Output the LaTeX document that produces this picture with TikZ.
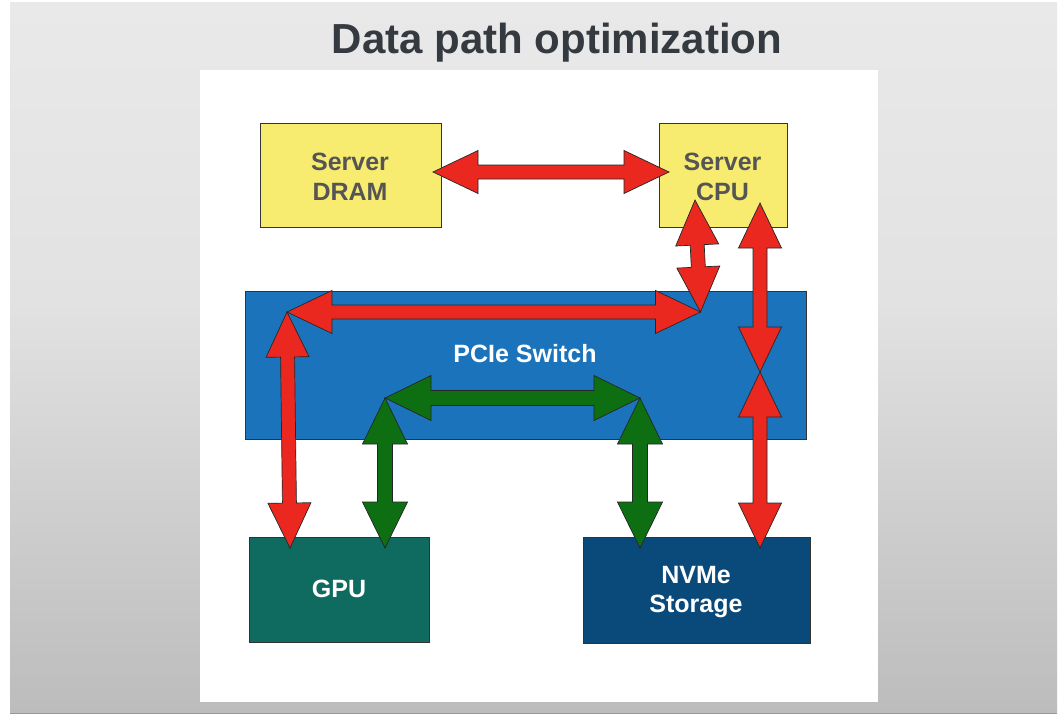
\documentclass[tikz,border=0pt]{standalone}
\usepackage{fontspec}
\setmainfont{Liberation Sans}
\usetikzlibrary{calc}

\definecolor{bgtop}{HTML}{E9E9E9}
\definecolor{bgmid}{HTML}{E2E2E2}
\definecolor{bgbot}{HTML}{BCBCBC}
\definecolor{titlegray}{HTML}{343A40}
\definecolor{labelgray}{HTML}{555555}
\definecolor{dramyellow}{HTML}{F8EC70}
\definecolor{switchblue}{HTML}{1B74BB}
\definecolor{gputeal}{HTML}{0F6A5F}
\definecolor{nvmenavy}{HTML}{0A4A7B}
\definecolor{linkred}{HTML}{EA2820}
\definecolor{linkgreen}{HTML}{0E6E12}

% double-headed block arrow between two named points
% #1 fill colour, #2/#3 tips, #4 head length, #5 head half width, #6 shaft half width
\newcommand\pipearrow[6]{%
  \coordinate (ha) at ($(#2)!#4!(#3)$);
  \coordinate (hb) at ($(#3)!#4!(#2)$);
  \draw[blockarrow,fill=#1] (#2)
    -- ($(ha)!#5!90:(#3)$) -- ($(ha)!#6!90:(#3)$)
    -- ($(hb)!#6!-90:(#2)$) -- ($(hb)!#5!-90:(#2)$)
    -- (#3)
    -- ($(hb)!#5!90:(#2)$) -- ($(hb)!#6!90:(#2)$)
    -- ($(ha)!#6!-90:(#3)$) -- ($(ha)!#5!-90:(#3)$)
    -- cycle;}
\newcommand\redlink[2]{\pipearrow{linkred}{#1}{#2}{45pt}{21.5pt}{7pt}}
\newcommand\greenlink[2]{\pipearrow{linkgreen}{#1}{#2}{46pt}{22.5pt}{7.5pt}}

\begin{document}
\begin{tikzpicture}[x=1pt,y=-1pt,
  box/.style={draw=black!80,line width=0.8pt,inner sep=0pt},
  boxtext/.style={font=\fontsize{25}{30}\selectfont\bfseries,align=center},
  blockarrow/.style={draw=black!85,line width=0.7pt,line join=miter}]
\useasboundingbox (0,0) rectangle (1058,715);

% slide background
\fill[white] (0,0) rectangle (1058,715);
\shade[top color=bgtop,bottom color=bgmid] (10,2) rectangle (1057,300);
\shade[top color=bgmid,bottom color=bgbot] (10,300) rectangle (1057,713.5);
\draw[black!40,line width=0.8pt] (10,713.5) -- (1057,713.5);
\fill[white] (200,70) rectangle (878,702);

\node[font=\fontsize{42}{50}\selectfont\bfseries,text=titlegray,anchor=base]
  (title) at (557,53) {Data path optimization};

% components
\node[box,fill=dramyellow,minimum width=181pt,minimum height=104pt] (dram) at (350.5,175) {};
\node[boxtext,text=labelgray] (dramlabel) at (350,177) {Server\\DRAM};
\node[box,fill=dramyellow,minimum width=128pt,minimum height=104pt] (cpu) at (723,175) {};
\node[boxtext,text=labelgray] (cpulabel) at (722.5,177) {Server\\CPU};
\node[box,fill=switchblue,minimum width=561pt,minimum height=148pt] (switch) at (525.5,365) {};
\node[boxtext,text=white] (switchlabel) at (525,353.5) {PCIe Switch};
\node[box,fill=gputeal,minimum width=180pt,minimum height=105pt] (gpu) at (339,589.5) {};
\node[boxtext,text=white] (gpulabel) at (339,588.5) {GPU};
\node[box,fill=nvmenavy,minimum width=227pt,minimum height=106pt] (nvme) at (696.5,590) {};
\node[boxtext,text=white,font=\fontsize{25}{29}\selectfont\bfseries] (nvmelabel) at (696,592) {NVMe\\Storage};

% arrow tips
\coordinate (dramR) at (433,172);
\coordinate (cpuL) at (669,172);
\coordinate (cpuA) at (695,200);
\coordinate (cpuB) at (760,203);
\coordinate (swR) at (700.5,312);
\coordinate (swL) at (287,312);
\coordinate (swMid) at (760,372);
\coordinate (gpuA) at (290,548);
\coordinate (gpuB) at (385,548);
\coordinate (nvmeA) at (640,548);
\coordinate (nvmeB) at (760,548);
\coordinate (grL) at (385,398);
\coordinate (grR) at (640,398);

% data paths through the host
\redlink{dramR}{cpuL}
\redlink{cpuA}{swR}
\redlink{swL}{swR}
\redlink{swL}{gpuA}
\redlink{cpuB}{swMid}
\redlink{swMid}{nvmeB}

% direct peer-to-peer path
\greenlink{grL}{grR}
\greenlink{grL}{gpuB}
\greenlink{grR}{nvmeA}
\end{tikzpicture}
\end{document}
